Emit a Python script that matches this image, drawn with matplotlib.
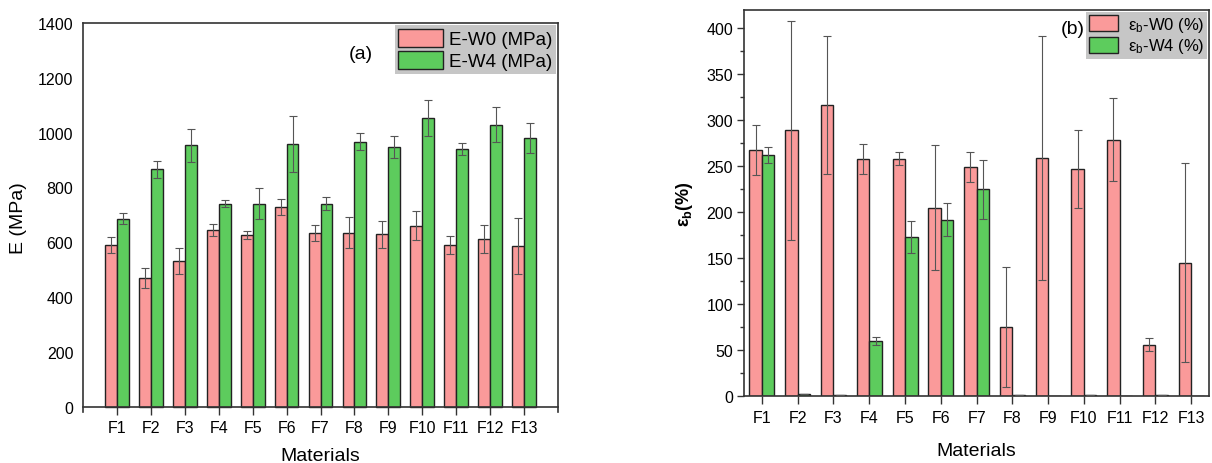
import matplotlib
matplotlib.use("Agg")
import matplotlib.pyplot as plt
import numpy as np

plt.rcParams['font.family'] = ['Liberation Sans', 'DejaVu Sans']
plt.rcParams['mathtext.fontset'] = 'custom'
plt.rcParams['mathtext.rm'] = 'Liberation Sans'
plt.rcParams['mathtext.it'] = 'Liberation Sans:italic'
plt.rcParams['mathtext.bf'] = 'Liberation Sans:bold'

materials = ['F1', 'F2', 'F3', 'F4', 'F5', 'F6', 'F7', 'F8', 'F9', 'F10', 'F11', 'F12', 'F13']

E_W0 = [590, 470, 530, 645, 625, 727, 632, 635, 628, 660, 588, 611, 586]
E_W0_err = [28, 37, 47, 23, 14, 29, 29, 56, 49, 52, 33, 50, 103]
E_W4 = [686, 867, 954, 741, 741, 959, 740, 967, 946, 1053, 939, 1029, 979]
E_W4_err = [20, 31, 60, 14, 57, 102, 23, 32, 40, 67, 22, 64, 55]

eb_W0 = [268, 289, 317, 258, 258, 205, 249, 75, 259, 247, 279, 56, 145]
eb_W0_err = [27, 119, 75, 16, 7, 68, 16, 65, 133, 42, 45, 7, 108]
eb_W4 = [262, 2, 1, 60, 173, 192, 225, 1, 0.5, 1, 0, 1, 0.5]
eb_W4_err = [9, 0, 0, 4, 17, 18, 32, 0, 0, 0, 0, 0, 0]

pink = '#fa9a9a'
green = '#5dcc5d'
edge = '#222222'
errc = '#555555'

fig = plt.figure(figsize=(12.12, 4.64), dpi=100)
fig.patch.set_facecolor('white')

x = np.arange(1, len(materials) + 1)
w = 0.35

# Panel (a)
ax1 = fig.add_axes([0.0685, 0.1099, 0.3919, 0.8384])
ax1.bar(x - w / 2, E_W0, w, color=pink, edgecolor=edge, linewidth=1.0, label='E-W0 (MPa)', zorder=2)
ax1.bar(x + w / 2, E_W4, w, color=green, edgecolor=edge, linewidth=1.0, label='E-W4 (MPa)', zorder=2)
ax1.errorbar(x - w / 2, E_W0, yerr=E_W0_err, fmt='none', ecolor=errc, elinewidth=0.8, capsize=3, capthick=0.8, zorder=3)
ax1.errorbar(x + w / 2, E_W4, yerr=E_W4_err, fmt='none', ecolor=errc, elinewidth=0.8, capsize=3, capthick=0.8, zorder=3)
ax1.set_xlim(0, 14)
ax1.set_ylim(-20, 1400)
ax1.spines['bottom'].set_position(('data', 0))
for s in ax1.spines.values():
    s.set_color('#333333')
    s.set_linewidth(1.2)
ax1.set_xticks(x)
ax1.set_xticklabels(materials)
ax1.set_yticks(np.arange(0, 1401, 200))
ax1.tick_params(axis='y', length=0, pad=7, labelsize=11.5)
ax1.tick_params(axis='x', direction='out', length=6, width=1.0, pad=4, labelsize=11.5, color='#333333')
ax1.set_ylabel('E (MPa)', fontsize=14, labelpad=8)
ax1.set_xlabel('Materials', fontsize=14, labelpad=8)
ax1.text(8.2, 1290, '(a)', fontsize=14, ha='center', va='center')
leg1 = ax1.legend(loc='upper right', borderaxespad=0.1, fontsize=13.5, frameon=True, fancybox=False,
                  facecolor='#c6c6c6', edgecolor='none', framealpha=1, handlelength=2.4, handleheight=1.1,
                  handletextpad=0.3, labelspacing=0.15, borderpad=0.2)

# Panel (b)
ax2 = fig.add_axes([0.6139, 0.1444, 0.3837, 0.8319])
ax2.bar(x - w / 2, eb_W0, w, color=pink, edgecolor=edge, linewidth=1.0, label=r'ε$_\mathrm{b}$-W0 (%)', zorder=2)
ax2.bar(x + w / 2, eb_W4, w, color=green, edgecolor=edge, linewidth=1.0, label=r'ε$_\mathrm{b}$-W4 (%)', zorder=2)
ax2.errorbar(x - w / 2, eb_W0, yerr=eb_W0_err, fmt='none', ecolor=errc, elinewidth=0.8, capsize=3, capthick=0.8, zorder=3)
ax2.errorbar(x + w / 2, eb_W4, yerr=eb_W4_err, fmt='none', ecolor=errc, elinewidth=0.8, capsize=3, capthick=0.8, zorder=3)
ax2.set_xlim(0.5, 13.5)
ax2.set_ylim(0, 420)
for s in ax2.spines.values():
    s.set_color('#333333')
    s.set_linewidth(1.2)
ax2.set_xticks(x)
ax2.set_xticklabels(materials)
ax2.set_yticks(np.arange(0, 401, 50))
ax2.set_yticks(np.arange(25, 401, 50), minor=True)
ax2.tick_params(axis='y', which='major', direction='out', length=5, width=1.0, pad=3, labelsize=11.5, color='#333333')
ax2.tick_params(axis='y', which='minor', direction='out', length=3, width=1.0, color='#333333')
ax2.tick_params(axis='x', direction='out', length=6, width=1.0, pad=4, labelsize=11.5, color='#333333')
ax2.set_ylabel(r'ε$_\mathbf{b}$(%)', fontsize=13, fontweight='bold', labelpad=8)
ax2.set_xlabel('Materials', fontsize=14, labelpad=12)
ax2.text(9.7, 400, '(b)', fontsize=14, ha='center', va='center')
leg2 = ax2.legend(loc='upper right', borderaxespad=0.1, fontsize=12, frameon=True, fancybox=False,
                  facecolor='#c6c6c6', edgecolor='none', framealpha=1, handlelength=1.7, handleheight=1.1,
                  handletextpad=0.6, labelspacing=0.15, borderpad=0.2)

fig.savefig('out.png', dpi=100)
